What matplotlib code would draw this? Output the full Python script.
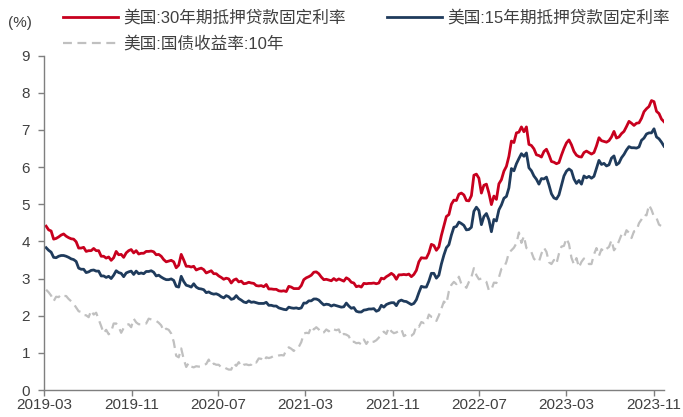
import matplotlib
matplotlib.use('agg')

import numpy as np
import pandas as pd
import matplotlib.pyplot as plt
import matplotlib.dates as mdates

plt.rcParams['font.family'] = ['Liberation Sans', 'Noto Sans CJK SC', 'DejaVu Sans']

# weekly rates, one row per year (2019-03-07 .. 2023-11-30)
rate30 = [
    4.41, 4.31, 4.28, 4.06, 4.08, 4.12, 4.17, 4.20, 4.14, 4.10, 4.07, 4.06, 3.99, 3.82, 3.82, 3.84, 3.73,
    3.75, 3.75, 3.81, 3.75, 3.75, 3.60, 3.60, 3.55, 3.58, 3.49, 3.56, 3.73, 3.64, 3.65, 3.57, 3.69, 3.75,
    3.78, 3.69, 3.75, 3.66, 3.68, 3.68, 3.73, 3.73, 3.74,
    3.72, 3.64, 3.65, 3.60, 3.51, 3.45, 3.47, 3.49, 3.45, 3.29, 3.36, 3.65, 3.50, 3.33, 3.33, 3.31, 3.33,
    3.23, 3.26, 3.28, 3.24, 3.15, 3.18, 3.21, 3.13, 3.13, 3.07, 3.03, 2.98, 3.01, 2.99, 2.88, 2.96, 2.99,
    2.91, 2.93, 2.86, 2.87, 2.90, 2.88, 2.87, 2.81, 2.80, 2.81, 2.78, 2.84, 2.72, 2.72, 2.71, 2.71, 2.67,
    2.66, 2.67,
    2.65, 2.79, 2.77, 2.73, 2.73, 2.73, 2.81, 2.97, 3.02, 3.05, 3.09, 3.17, 3.18, 3.13, 3.04, 2.97, 2.98,
    2.96, 2.94, 3.00, 2.95, 2.99, 2.96, 2.93, 3.02, 2.98, 2.90, 2.88, 2.78, 2.80, 2.77, 2.87, 2.86, 2.87,
    2.87, 2.88, 2.86, 2.88, 3.01, 2.99, 3.05, 3.09, 3.14, 3.09, 2.98, 3.10, 3.10, 3.11, 3.10, 3.12, 3.05,
    3.11,
    3.22, 3.45, 3.56, 3.55, 3.55, 3.69, 3.92, 3.89, 3.76, 3.85, 4.16, 4.42, 4.67, 4.72, 5.00, 5.11, 5.10,
    5.27, 5.30, 5.25, 5.10, 5.09, 5.23, 5.78, 5.81, 5.70, 5.30, 5.51, 5.54, 5.30, 4.99, 5.22, 5.13, 5.55,
    5.66, 5.89, 6.02, 6.29, 6.70, 6.66, 6.92, 6.94, 7.08, 6.95, 7.08, 6.61, 6.58, 6.49, 6.33, 6.31, 6.27,
    6.42,
    6.48, 6.33, 6.15, 6.13, 6.09, 6.12, 6.32, 6.50, 6.65, 6.73, 6.60, 6.42, 6.32, 6.28, 6.27, 6.39, 6.43,
    6.39, 6.35, 6.39, 6.57, 6.79, 6.71, 6.69, 6.67, 6.71, 6.81, 6.96, 6.78, 6.81, 6.90, 6.96, 7.09, 7.23,
    7.18, 7.12, 7.18, 7.19, 7.31, 7.49, 7.57, 7.63, 7.79, 7.76, 7.50, 7.44, 7.29, 7.22,
]

rate15 = [
    3.83, 3.76, 3.71, 3.57, 3.56, 3.60, 3.62, 3.62, 3.60, 3.57, 3.53, 3.51, 3.46, 3.28, 3.25, 3.25, 3.16,
    3.18, 3.22, 3.23, 3.20, 3.20, 3.07, 3.07, 3.03, 3.06, 3.00, 3.09, 3.21, 3.16, 3.14, 3.05, 3.15, 3.18,
    3.20, 3.11, 3.20, 3.13, 3.15, 3.13, 3.19, 3.19, 3.21,
    3.17, 3.07, 3.09, 3.04, 3.00, 2.97, 2.97, 2.99, 2.95, 2.79, 2.77, 3.06, 2.92, 2.82, 2.80, 2.77, 2.86,
    2.77, 2.73, 2.72, 2.70, 2.62, 2.64, 2.60, 2.58, 2.59, 2.56, 2.51, 2.48, 2.54, 2.51, 2.44, 2.46, 2.54,
    2.46, 2.42, 2.37, 2.35, 2.40, 2.36, 2.37, 2.35, 2.33, 2.33, 2.33, 2.36, 2.28, 2.28, 2.26, 2.26, 2.21,
    2.19, 2.17,
    2.16, 2.23, 2.21, 2.20, 2.21, 2.19, 2.21, 2.34, 2.34, 2.40, 2.40, 2.45, 2.45, 2.42, 2.35, 2.29, 2.31,
    2.30, 2.26, 2.29, 2.27, 2.25, 2.23, 2.24, 2.34, 2.26, 2.20, 2.22, 2.12, 2.10, 2.10, 2.15, 2.16, 2.18,
    2.18, 2.19, 2.12, 2.15, 2.28, 2.23, 2.30, 2.33, 2.35, 2.35, 2.27, 2.39, 2.42, 2.39, 2.38, 2.34, 2.30,
    2.33,
    2.43, 2.62, 2.79, 2.77, 2.77, 2.93, 3.14, 3.14, 3.01, 3.09, 3.39, 3.63, 3.83, 3.91, 4.17, 4.38, 4.40,
    4.52, 4.48, 4.43, 4.31, 4.32, 4.38, 4.81, 4.92, 4.83, 4.45, 4.67, 4.75, 4.58, 4.26, 4.59, 4.55, 4.85,
    4.98, 5.16, 5.21, 5.44, 5.96, 5.90, 6.09, 6.23, 6.36, 6.29, 6.38, 5.98, 5.90, 5.76, 5.67, 5.54, 5.69,
    5.68,
    5.73, 5.52, 5.28, 5.17, 5.14, 5.25, 5.51, 5.76, 5.89, 5.95, 5.90, 5.68, 5.56, 5.64, 5.54, 5.76, 5.71,
    5.75, 5.70, 5.75, 5.97, 6.18, 6.07, 6.10, 6.03, 6.06, 6.24, 6.30, 6.06, 6.11, 6.25, 6.34, 6.46, 6.55,
    6.52, 6.52, 6.51, 6.54, 6.72, 6.78, 6.89, 6.92, 6.92, 7.03, 6.81, 6.76, 6.67, 6.56,
]

ust10 = [
    2.70, 2.63, 2.54, 2.39, 2.51, 2.50, 2.57, 2.53, 2.53, 2.45, 2.39, 2.32, 2.22, 2.12, 2.10, 2.02, 2.01,
    1.96, 2.14, 2.03, 2.08, 1.90, 1.72, 1.53, 1.62, 1.50, 1.57, 1.79, 1.79, 1.70, 1.54, 1.67, 1.75, 1.77,
    1.69, 1.92, 1.82, 1.77, 1.77, 1.80, 1.79, 1.92, 1.90,
    1.88, 1.86, 1.81, 1.74, 1.59, 1.65, 1.62, 1.52, 1.30, 0.92, 0.88, 1.12, 0.83, 0.62, 0.73, 0.63, 0.61,
    0.64, 0.63, 0.63, 0.68, 0.70, 0.82, 0.67, 0.71, 0.68, 0.68, 0.61, 0.62, 0.58, 0.55, 0.55, 0.72, 0.65,
    0.75, 0.63, 0.68, 0.69, 0.67, 0.68, 0.77, 0.74, 0.85, 0.84, 0.77, 0.88, 0.86, 0.88, 0.92, 0.91, 0.93,
    0.94, 0.93,
    1.08, 1.15, 1.11, 1.05, 1.14, 1.16, 1.29, 1.52, 1.54, 1.53, 1.71, 1.63, 1.69, 1.63, 1.53, 1.55, 1.63,
    1.58, 1.66, 1.63, 1.61, 1.63, 1.45, 1.51, 1.49, 1.45, 1.29, 1.30, 1.26, 1.27, 1.23, 1.36, 1.24, 1.34,
    1.29, 1.30, 1.34, 1.41, 1.52, 1.57, 1.51, 1.68, 1.58, 1.53, 1.55, 1.59, 1.64, 1.45, 1.49, 1.44, 1.46,
    1.52,
    1.73, 1.70, 1.83, 1.80, 1.82, 2.03, 1.97, 1.96, 1.86, 2.01, 2.19, 2.38, 2.32, 2.66, 2.83, 2.91, 2.85,
    3.05, 2.85, 2.84, 2.75, 2.91, 3.04, 3.28, 3.09, 2.98, 3.00, 2.96, 2.91, 2.68, 2.70, 2.89, 2.88, 3.03,
    3.26, 3.29, 3.45, 3.70, 3.76, 3.83, 3.95, 4.24, 3.96, 4.14, 3.82, 3.77, 3.71, 3.53, 3.48, 3.45, 3.67,
    3.83,
    3.72, 3.44, 3.39, 3.50, 3.40, 3.67, 3.86, 3.88, 4.08, 3.93, 3.56, 3.38, 3.55, 3.30, 3.45, 3.54, 3.48,
    3.39, 3.39, 3.65, 3.82, 3.61, 3.79, 3.72, 3.80, 3.85, 4.03, 3.76, 3.85, 4.01, 4.18, 4.11, 4.30, 4.23,
    4.09, 4.27, 4.29, 4.49, 4.59, 4.72, 4.70, 4.98, 4.85, 4.66, 4.63, 4.45, 4.41, 4.37,
]

labels = ['美国:30年期抵押贷款固定利率', '美国:15年期抵押贷款固定利率', '美国:国债收益率:10年']
tick_months = ['2019-03', '2019-11', '2020-07', '2021-03', '2021-11', '2022-07', '2023-03', '2023-11']

dates30 = pd.date_range('2019-03-07', periods=len(rate30), freq='7D')
dates15 = pd.date_range('2019-03-07', periods=len(rate15), freq='7D')
dates10 = pd.date_range('2019-03-07', periods=len(ust10), freq='7D')

fig = plt.figure(figsize=(6.83, 4.17), dpi=100)
ax = fig.add_axes([0.0644, 0.0647, 0.9078, 0.802])

txt = '#404040'
l30, = ax.plot(dates30, rate30, color='#C8001E', lw=2.0, label=labels[0])
l15, = ax.plot(dates15, rate15, color='#1F3B5C', lw=2.0, label=labels[1])
l10, = ax.plot(dates10, ust10, color='#C0C0C0', lw=1.6, ls=(0, (4, 2.5)), label=labels[2])

ax.set_ylim(0, 9)
ax.set_yticks(range(0, 10))
ax.set_xlim(pd.Timestamp('2019-03-01'), dates30[-1])
ax.set_xticks([pd.Timestamp(m + '-01') for m in tick_months])
ax.xaxis.set_major_formatter(mdates.DateFormatter('%Y-%m'))

for s in ['top', 'right']:
    ax.spines[s].set_visible(False)
for s in ['left', 'bottom']:
    ax.spines[s].set_color('#7F7F7F')
    ax.spines[s].set_linewidth(1.0)
ax.tick_params(axis='both', colors='#7F7F7F', labelcolor=txt, labelsize=11, length=4, width=1.0)
ax.tick_params(axis='y', pad=6)
ax.tick_params(axis='x', pad=2)

fig.text(0.012, 0.945, '(%)', fontsize=11, color=txt, va='center')

# legend: red / gray in the first column, blue alone in the second
leg = fig.legend([l30, l10, l15], [labels[0], labels[2], labels[1]], ncol=2,
                 loc='upper left', bbox_to_anchor=(0.088, 0.984), frameon=False,
                 fontsize=12, handlelength=3.3, handletextpad=0.3, columnspacing=2.45,
                 labelspacing=0.6, borderpad=0.2, borderaxespad=0)
for t in leg.get_texts():
    t.set_color(txt)

fig.savefig('out.png', dpi=100)
